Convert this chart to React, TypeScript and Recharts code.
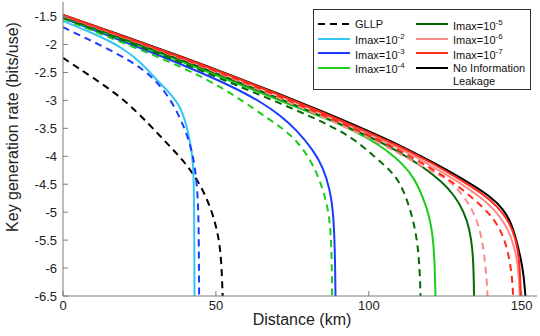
import { LineChart, Line, XAxis, YAxis, Legend, Label } from 'recharts';

type Pt = [number, number];

// distance (km) -> log10 key generation rate (bits/use)
const gllp: Pt[] = [[0, -2.24], [10, -2.6], [20, -2.98], [28.4, -3.44], [34, -3.77], [39.3, -4.07], [44.8, -4.48], [48.6, -4.96], [50.8, -5.4], [51.8, -5.85], [52.2, -6.5]];
const imax2: Pt[] = [[0, -1.58], [10, -1.8], [20, -2.07], [26, -2.35], [30, -2.6], [35, -2.87], [38.5, -3.12], [40.4, -3.45], [41.5, -3.72], [42.3, -4.0], [42.7, -4.3], [42.9, -4.9], [43, -6.5]];
const imax2Dash: Pt[] = [[0, -1.69], [8, -1.9], [18, -2.17], [26, -2.43], [31.7, -2.72], [36.5, -3.1], [40.2, -3.55], [42, -3.88], [43.2, -4.2], [44, -4.65], [44.4, -5.2], [44.5, -6.5]];
const imax3: Pt[] = [[0, -1.53], [20, -1.95], [40, -2.38], [54.6, -2.73], [65.5, -3.05], [71, -3.27], [76.4, -3.53], [81.8, -3.89], [85.1, -4.2], [87.3, -4.6], [88.3, -4.96], [88.8, -5.5], [89, -6.0], [89.1, -6.5]];
const imax3Dash: Pt[] = [[0, -1.54], [20, -1.98], [40, -2.42], [54.6, -2.85], [65.5, -3.27], [71, -3.47], [76.4, -3.71], [81.8, -4.13], [85.1, -4.6], [86.9, -5.0], [87.6, -5.4], [87.9, -5.9], [88, -6.5]];
const imax4: Pt[] = [[0, -1.51], [20, -1.92], [40, -2.33], [55, -2.66], [70, -2.98], [85, -3.31], [90, -3.41], [100, -3.68], [106, -3.9], [111, -4.13], [115, -4.4], [117.8, -4.75], [119.7, -5.05], [120.9, -5.4], [121.5, -5.85], [121.8, -6.5]];
const imax4Dash: Pt[] = [[0, -1.52], [20, -1.93], [40, -2.35], [55, -2.69], [70, -3.03], [85, -3.38], [95, -3.68], [100, -3.92], [105, -4.15], [110, -4.42], [113.3, -4.9], [115.2, -5.3], [116.2, -5.7], [116.7, -6.1], [116.9, -6.5]];
const imax5: Pt[] = [[0, -1.5], [20, -1.9], [40, -2.3], [55, -2.62], [70, -2.95], [85, -3.29], [100, -3.64], [110, -3.92], [118, -4.2], [124, -4.46], [128, -4.7], [131, -4.98], [133, -5.3], [134, -5.7], [134.3, -6.1], [134.4, -6.5]];
const imax5Dash: Pt[] = [[0, -1.49], [20, -1.88], [40, -2.28], [55, -2.6], [70, -2.94], [85, -3.3], [100, -3.66], [110, -3.95], [118, -4.2], [124, -4.35], [127.6, -4.5], [131, -4.72], [134, -4.96], [136.3, -5.3], [137.5, -5.65], [138.2, -6.0], [138.7, -6.3], [138.8, -6.5]];
const imax6: Pt[] = [[0, -1.48], [20, -1.87], [40, -2.26], [55, -2.57], [70, -2.9], [85, -3.24], [100, -3.6], [110, -3.86], [120, -4.15], [130, -4.48], [137, -4.75], [141, -4.95], [144.5, -5.2], [147, -5.5], [148.5, -5.85], [149.1, -6.15], [149.3, -6.5]];
const imax7: Pt[] = [[0, -1.47], [20, -1.86], [40, -2.25], [55, -2.56], [70, -2.88], [85, -3.22], [100, -3.57], [110, -3.82], [120, -4.1], [130, -4.42], [138, -4.7], [142, -4.9], [145, -5.1], [147.3, -5.35], [148.7, -5.65], [149.4, -6.0], [149.7, -6.5]];
const imax7Dash: Pt[] = [[0, -1.48], [20, -1.87], [40, -2.27], [55, -2.58], [70, -2.91], [85, -3.26], [100, -3.62], [110, -3.89], [120, -4.2], [128, -4.48], [134, -4.75], [139, -5.0], [142.5, -5.25], [144.8, -5.55], [146.2, -5.9], [146.9, -6.2], [147.2, -6.5]];
const noLeak: Pt[] = [[0, -1.47], [20, -1.85], [40, -2.24], [55, -2.55], [70, -2.87], [85, -3.2], [100, -3.55], [110, -3.8], [120, -4.08], [130, -4.38], [140, -4.72], [144, -4.95], [146.5, -5.18], [148.3, -5.5], [149.8, -5.85], [150.7, -6.15], [151.2, -6.5]];

const xTicks = [0, 50, 100, 150];
const yTicks = [-6.5, -6, -5.5, -5, -4.5, -4, -3.5, -3, -2.5, -2, -1.5];

const C = {
  lightBlue: '#33c6f4',
  blue: '#1a3cff',
  green: '#1ccc1c',
  darkGreen: '#076807',
  pink: '#ff8a8a',
  red: '#ff2a1a',
  black: '#000000',
};

const series = [
  { id: 'noleak', pts: noLeak, color: C.black, dash: false },
  { id: 'gllp', pts: gllp, color: C.black, dash: true },
  { id: 'i2', pts: imax2, color: C.lightBlue, dash: false },
  { id: 'i2d', pts: imax2Dash, color: C.blue, dash: true },
  { id: 'i3', pts: imax3, color: C.blue, dash: false },
  { id: 'i3d', pts: imax3Dash, color: C.green, dash: true },
  { id: 'i4', pts: imax4, color: C.green, dash: false },
  { id: 'i4d', pts: imax4Dash, color: C.darkGreen, dash: true },
  { id: 'i5', pts: imax5, color: C.darkGreen, dash: false },
  { id: 'i5d', pts: imax5Dash, color: C.pink, dash: true },
  { id: 'i6', pts: imax6, color: C.pink, dash: false },
  { id: 'i7d', pts: imax7Dash, color: C.red, dash: true },
  { id: 'i7', pts: imax7, color: C.red, dash: false },
];

const legendItems = [
  { label: 'GLLP', exp: '', color: C.black, dash: true },
  { label: 'Imax=10', exp: '-2', color: C.lightBlue, dash: false },
  { label: 'Imax=10', exp: '-3', color: C.blue, dash: false },
  { label: 'Imax=10', exp: '-4', color: C.green, dash: false },
  { label: 'Imax=10', exp: '-5', color: C.darkGreen, dash: false },
  { label: 'Imax=10', exp: '-6', color: C.pink, dash: false },
  { label: 'Imax=10', exp: '-7', color: C.red, dash: false },
  { label: 'No Information', exp: '', color: C.black, dash: false, extra: 'Leakage' },
];

const FONT = '"Liberation Sans", Arial, Helvetica, sans-serif';
const AXIS = '#7a7a7a';
const TXT = '#222';
const DASH = '7 5';

const LeftTick = (p: any) => (
  <g>
    <line x1={p.x + 6} x2={p.x + 11} y1={p.y} y2={p.y} stroke={AXIS} />
    <text x={p.x} y={p.y} dy={4.5} textAnchor="end" fontSize={13} fill={TXT} fontFamily={FONT}>
      {p.payload.value}
    </text>
  </g>
);

const BottomTick = (p: any) => (
  <g>
    <line x1={p.x} x2={p.x} y1={p.y - 3} y2={p.y - 8} stroke={AXIS} />
    <text x={p.x} y={p.y} dy={11} textAnchor="middle" fontSize={13} fill={TXT} fontFamily={FONT}>
      {p.payload.value}
    </text>
  </g>
);

const TopTick = (p: any) => <line x1={p.x} x2={p.x} y1={p.y} y2={p.y + 5} stroke={AXIS} />;
const RightTick = (p: any) => <line x1={p.x} x2={p.x - 5} y1={p.y} y2={p.y} stroke={AXIS} />;

function LegendBox() {
  const rowTop = [14, 28.5, 43, 57.5];
  return (
    <div
      style={{
        position: 'relative',
        width: 216,
        height: 79,
        border: '1px solid #333',
        background: '#fff',
        fontFamily: FONT,
        fontSize: 11,
        color: '#111',
      }}
    >
      {legendItems.map((it, i) => {
        const col = i < 4 ? 0 : 1;
        const row = i % 4;
        const left = col === 0 ? 4 : 102;
        const top = rowTop[row];
        return (
          <div key={i} style={{ position: 'absolute', left, top: top - 7, height: 14, display: 'flex', alignItems: 'center', whiteSpace: 'nowrap' }}>
            <svg width={32} height={4} style={{ marginRight: 5 }}>
              <line x1={0} x2={32} y1={2} y2={2} stroke={it.color} strokeWidth={2} strokeDasharray={it.dash ? DASH : undefined} />
            </svg>
            <span style={{ lineHeight: '14px' }}>
              {it.label}
              {it.exp ? <sup style={{ fontSize: 8, verticalAlign: 5 }}>{it.exp}</sup> : null}
            </span>
            {it.extra ? (
              <span style={{ position: 'absolute', left: 37, top: 13.5, lineHeight: '14px' }}>{it.extra}</span>
            ) : null}
          </div>
        );
      })}
    </div>
  );
}

export default function App() {
  return (
    <div style={{ width: 540, height: 336, position: 'relative', background: '#fff' }}>
      <style>{'body{margin:0}'}</style>
      <LineChart width={540} height={336} margin={{ top: 2, right: 3, bottom: 0, left: 0 }}>
        <XAxis
          xAxisId="b"
          dataKey="x"
          type="number"
          domain={[0, 155]}
          ticks={xTicks}
          allowDataOverflow
          height={40}
          stroke={AXIS}
          tickSize={0}
          tickMargin={3}
          tick={<BottomTick />}
        >
          <Label
            content={() => (
              <text x={302} y={325} textAnchor="middle" fontSize={16} fill={TXT} fontFamily={FONT}>
                Distance (km)
              </text>
            )}
          />
        </XAxis>
        <XAxis
          xAxisId="t"
          orientation="top"
          type="number"
          domain={[0, 155]}
          ticks={xTicks}
          allowDataOverflow
          height={0}
          stroke={AXIS}
          tickSize={0}
          tickMargin={0}
          tick={<TopTick />}
        />
        <YAxis
          yAxisId="l"
          type="number"
          domain={[-6.5, -1.24]}
          ticks={yTicks}
          allowDataOverflow
          width={63}
          stroke={AXIS}
          tickSize={0}
          tickMargin={6}
          tick={<LeftTick />}
        >
          <Label
            content={() => (
              <text
                x={18}
                y={127}
                transform="rotate(-90 18 127)"
                textAnchor="middle"
                fontSize={16}
                fill={TXT}
                fontFamily={FONT}
              >
                Key generation rate (bits/use)
              </text>
            )}
          />
        </YAxis>
        <YAxis
          yAxisId="r"
          orientation="right"
          type="number"
          domain={[-6.5, -1.24]}
          ticks={yTicks}
          allowDataOverflow
          width={0}
          stroke={AXIS}
          tickSize={0}
          tickMargin={0}
          tick={<RightTick />}
        />
        {series.map((s) => (
          <Line
            key={s.id}
            xAxisId="b"
            yAxisId="l"
            data={s.pts.map(([x, y]) => ({ x, y }))}
            dataKey="y"
            type="basis"
            stroke={s.color}
            strokeWidth={2}
            strokeDasharray={s.dash ? DASH : undefined}
            dot={false}
            activeDot={false}
            isAnimationActive={false}
          />
        ))}
        <Legend
          layout="vertical"
          align="center"
          verticalAlign="middle"
          content={() => <LegendBox />}
          wrapperStyle={{ position: 'absolute', left: 313, top: 9, width: 218, height: 81 }}
        />
      </LineChart>
    </div>
  );
}
